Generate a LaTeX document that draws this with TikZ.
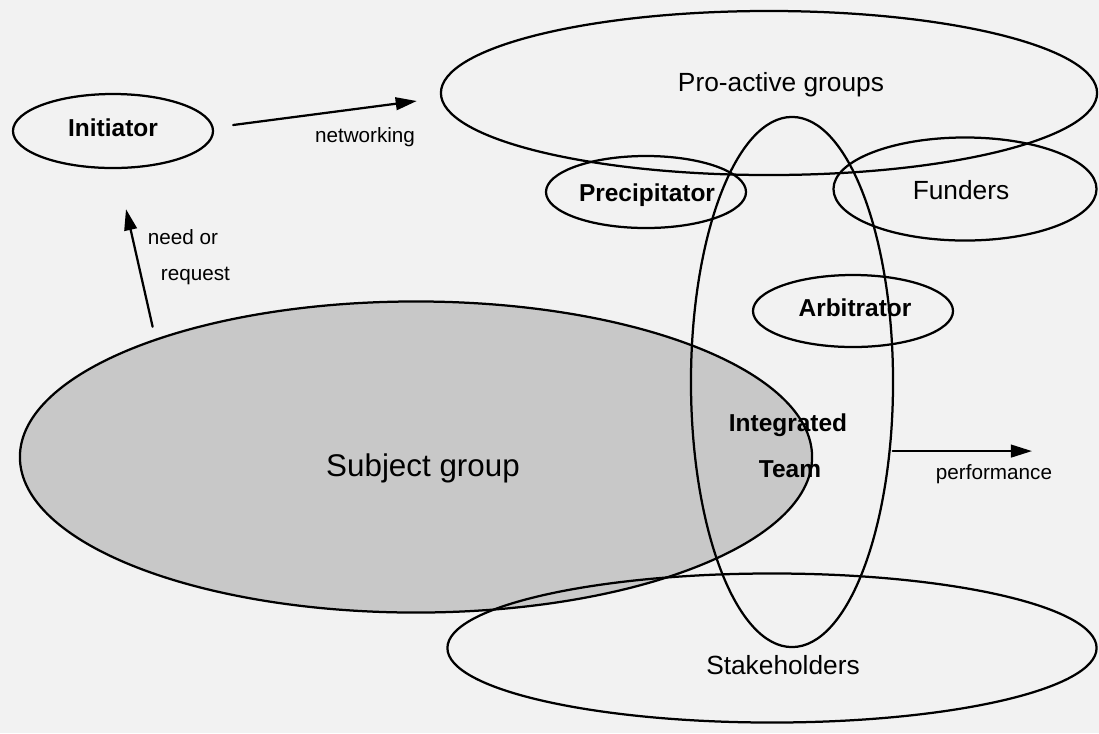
\documentclass[tikz,border=0pt]{standalone}
\usepackage{fontspec}
\setmainfont{Liberation Sans}
\usetikzlibrary{arrows.meta,shapes.geometric,positioning}
\definecolor{paper}{RGB}{242,242,242}
\definecolor{subjfill}{RGB}{200,200,200}

\begin{document}
\begin{tikzpicture}[line cap=round,line join=round,>={Triangle[length=15pt,width=9pt]},x=0.025cm,y=-0.025cm,
	oval/.style={ellipse,draw,line width=1.6pt,inner sep=0pt},
	rolebf/.style={font=\fontsize{17.4}{20}\selectfont\bfseries,anchor=base},
	grouptxt/.style={font=\fontsize{18.7}{22}\selectfont,anchor=base},
	smalltxt/.style={font=\fontsize{14.7}{17}\selectfont,anchor=base},
	flow/.style={->,line width=1.6pt}]

\fill[paper] (0,0) rectangle (1099,733);

% groups
\node[oval,fill=subjfill,minimum width=19.8cm,minimum height=7.775cm] (subj) at (416,457) {};
\node[oval,minimum width=16.4cm,minimum height=4.1cm] (pro) at (769,93) {};
\node[oval,minimum width=16.225cm,minimum height=3.725cm] (stake) at (772,648) {};
\node[oval,minimum width=6.575cm,minimum height=2.575cm] (fund) at (965,189) {};
\node[oval,minimum width=5.05cm,minimum height=13.25cm] (team) at (792,382) {};

% roles
\node[oval,minimum width=5cm,minimum height=1.85cm] (init) at (113,131) {};
\node[oval,minimum width=5cm,minimum height=1.8cm] (prec) at (646,192) {};
\node[oval,minimum width=5cm,minimum height=1.8cm] (arb) at (853,311) {};

% texts
\node[rolebf] (initlbl) at (113,136) {Initiator};
\node[rolebf] (preclbl) at (647,201) {Precipitator};
\node[rolebf] (arblbl) at (855,316) {Arbitrator};
\node[rolebf] (intlbl) at (788,431) {Integrated};
\node[rolebf] (teamlbl) at (790,477) {Team};
\node[grouptxt] (prolbl) at (781,91) {Pro-active groups};
\node[grouptxt] (fundlbl) at (961,199) {Funders};
\node[grouptxt] (stakelbl) at (783,674) {Stakeholders};
\node[grouptxt,font=\fontsize{22.3}{26}\selectfont] (subjlbl) at (423,476) {Subject group};

% arrows
\coordinate (perfend) at (1032,450);
\draw[flow] ([shift={(19,-6)}]init.east) -- ([shift={(-23,8)}]pro.west);
\draw[flow] ([shift={(0,-13)}]subj.156) -- ([shift={(13,40)}]init.south);
\draw[flow] ([shift={(2,0)}]team.-35) -- (team.-35 -| perfend);

\node[smalltxt] (netlbl) at (365,142) {networking};
\node[smalltxt,anchor=base west] (needlbl) at (143,244) {need or};
\node[smalltxt,anchor=base west] (reqlbl) at (156,280) {request};
\node[smalltxt] (perflbl) at (994,479) {performance};
\end{tikzpicture}
\end{document}
